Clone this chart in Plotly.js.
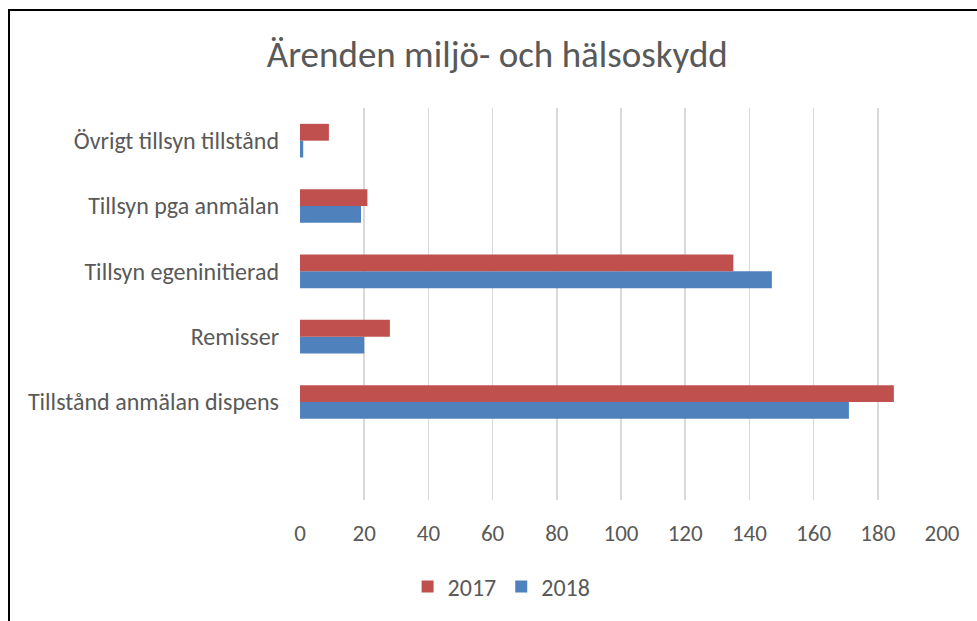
<!DOCTYPE html>
<html>
<head>
<meta charset="utf-8">
<script src="https://cdn.plot.ly/plotly-3.0.1.min.js"></script>
<style>
  html, body { margin: 0; padding: 0; background: #fff; }
  #frame { position: absolute; left: 8px; top: 9px; width: 980px; height: 620px;
           border-top: 2px solid #000; border-left: 2px solid #000; }
  #chart { position: absolute; left: 0; top: 0; width: 977px; height: 621px; }
</style>
</head>
<body>
<div id="frame"></div>
<div id="chart"></div>
<script>
const categories = ['Tillstånd anmälan dispens', 'Remisser', 'Tillsyn egeninitierad', 'Tillsyn pga anmälan', 'Övrigt tillsyn tillstånd'];
const values2017 = [185, 28, 135, 21, 9];
const values2018 = [171, 20, 147, 19, 1];
const xTicks = [0, 20, 40, 60, 80, 100, 120, 140, 160, 180, 200];

const FONT = 'Calibri, Carlito, Lato, sans-serif';
const TXT = '#595959';

const traces = [
  { type: 'bar', orientation: 'h', name: '2018', y: categories, x: values2018,
    marker: { color: '#4F81BD' }, hoverinfo: 'x+y' },
  { type: 'bar', orientation: 'h', name: '2017', y: categories, x: values2017,
    marker: { color: '#C0504D' }, hoverinfo: 'x+y' }
];

const layout = {
  width: 977, height: 621,
  margin: { l: 300, r: 35, t: 108, b: 116 },
  paper_bgcolor: 'rgba(0,0,0,0)', plot_bgcolor: 'rgba(0,0,0,0)',
  font: { family: FONT, color: TXT, size: 24 },
  title: { text: 'Ärenden miljö- och hälsoskydd', font: { family: FONT, size: 37, color: TXT },
           x: 0.509, xref: 'container', y: 0.913, yref: 'container', yanchor: 'middle' },
  barmode: 'group', bargap: 0.485, bargroupgap: 0,
  xaxis: { range: [0, 200], tickvals: xTicks, showgrid: true, gridcolor: '#D9D9D9', gridwidth: 1.5,
           zeroline: false, showline: false, ticks: '', ticklabelstandoff: 17,
           tickfont: { family: FONT, size: 23, color: TXT }, fixedrange: true },
  yaxis: { type: 'category', categoryorder: 'array', categoryarray: categories,
           range: [-1.5, 4.5], showgrid: false, zeroline: false, showline: false, ticks: '',
           ticklabelstandoff: 20, tickfont: { family: FONT, size: 24, color: TXT }, fixedrange: true },
  legend: { orientation: 'h', traceorder: 'reversed', x: 0.314, xanchor: 'center',
            y: -0.222, yanchor: 'middle', font: { family: FONT, size: 24, color: TXT } },
  showlegend: true
};

Plotly.newPlot('chart', traces, layout, { displayModeBar: false, staticPlot: true });
</script>
</body>
</html>
